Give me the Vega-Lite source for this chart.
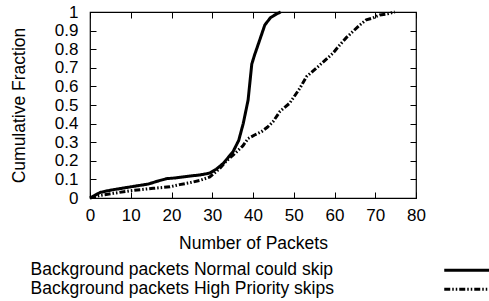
{
  "$schema": "https://vega.github.io/schema/vega-lite/v6.json",
  "width": 326,
  "height": 186,
  "autosize": {"type": "none"},
  "padding": {"left": 90, "top": 12, "right": 73, "bottom": 103},
  "background": "white",
  "config": {
    "font": "Liberation Sans",
    "view": {"stroke": "black", "strokeWidth": 1.2},
    "axis": {
      "domain": false, "grid": false, "tickColor": "black", "tickSize": -6, "tickWidth": 1,
      "labelFontSize": 17, "labelColor": "black", "titleFontSize": 17.5, "titleColor": "black",
      "titleFontWeight": "normal", "labelFont": "Liberation Sans", "titleFont": "Liberation Sans",
      "labelOverlap": false, "labelFlush": false, "labelBound": false
    },
    "legend": {
      "padding": 0, "labelFontSize": 17.5, "labelColor": "black", "labelFont": "Liberation Sans", "labelLimit": 0,
      "symbolStrokeColor": "black", "symbolStrokeWidth": 3, "symbolFillColor": "transparent"
    }
  },
  "data": {
    "values": [
      {"series": "Background packets Normal could skip", "packets": 0, "fraction": 0},
      {"series": "Background packets Normal could skip", "packets": 1, "fraction": 0.012},
      {"series": "Background packets Normal could skip", "packets": 2.5, "fraction": 0.03},
      {"series": "Background packets Normal could skip", "packets": 5, "fraction": 0.042},
      {"series": "Background packets Normal could skip", "packets": 10, "fraction": 0.06},
      {"series": "Background packets Normal could skip", "packets": 14.3, "fraction": 0.075},
      {"series": "Background packets Normal could skip", "packets": 16.5, "fraction": 0.09},
      {"series": "Background packets Normal could skip", "packets": 18.8, "fraction": 0.104},
      {"series": "Background packets Normal could skip", "packets": 21, "fraction": 0.108},
      {"series": "Background packets Normal could skip", "packets": 24.5, "fraction": 0.118},
      {"series": "Background packets Normal could skip", "packets": 27, "fraction": 0.124},
      {"series": "Background packets Normal could skip", "packets": 29.4, "fraction": 0.134},
      {"series": "Background packets Normal could skip", "packets": 31, "fraction": 0.155},
      {"series": "Background packets Normal could skip", "packets": 32.7, "fraction": 0.186},
      {"series": "Background packets Normal could skip", "packets": 35.1, "fraction": 0.249},
      {"series": "Background packets Normal could skip", "packets": 36.5, "fraction": 0.31},
      {"series": "Background packets Normal could skip", "packets": 37.6, "fraction": 0.4},
      {"series": "Background packets Normal could skip", "packets": 38.8, "fraction": 0.527},
      {"series": "Background packets Normal could skip", "packets": 39.7, "fraction": 0.72},
      {"series": "Background packets Normal could skip", "packets": 40.4, "fraction": 0.77},
      {"series": "Background packets Normal could skip", "packets": 41.5, "fraction": 0.84},
      {"series": "Background packets Normal could skip", "packets": 42.9, "fraction": 0.93},
      {"series": "Background packets Normal could skip", "packets": 44.3, "fraction": 0.97},
      {"series": "Background packets Normal could skip", "packets": 45.8, "fraction": 0.99},
      {"series": "Background packets Normal could skip", "packets": 46.8, "fraction": 1.0},
      {"series": "Background packets High Priority skips", "packets": 0, "fraction": 0},
      {"series": "Background packets High Priority skips", "packets": 2.5, "fraction": 0.014},
      {"series": "Background packets High Priority skips", "packets": 5.7, "fraction": 0.025},
      {"series": "Background packets High Priority skips", "packets": 9.8, "fraction": 0.039},
      {"series": "Background packets High Priority skips", "packets": 15.5, "fraction": 0.052},
      {"series": "Background packets High Priority skips", "packets": 19.6, "fraction": 0.06},
      {"series": "Background packets High Priority skips", "packets": 22, "fraction": 0.072},
      {"series": "Background packets High Priority skips", "packets": 24.5, "fraction": 0.082},
      {"series": "Background packets High Priority skips", "packets": 27, "fraction": 0.095},
      {"series": "Background packets High Priority skips", "packets": 29.4, "fraction": 0.113},
      {"series": "Background packets High Priority skips", "packets": 31.9, "fraction": 0.16},
      {"series": "Background packets High Priority skips", "packets": 33.5, "fraction": 0.2},
      {"series": "Background packets High Priority skips", "packets": 35.1, "fraction": 0.23},
      {"series": "Background packets High Priority skips", "packets": 37.5, "fraction": 0.28},
      {"series": "Background packets High Priority skips", "packets": 38.8, "fraction": 0.32},
      {"series": "Background packets High Priority skips", "packets": 40.5, "fraction": 0.34},
      {"series": "Background packets High Priority skips", "packets": 42.1, "fraction": 0.357},
      {"series": "Background packets High Priority skips", "packets": 43.5, "fraction": 0.38},
      {"series": "Background packets High Priority skips", "packets": 44.9, "fraction": 0.41},
      {"series": "Background packets High Priority skips", "packets": 46.6, "fraction": 0.465},
      {"series": "Background packets High Priority skips", "packets": 49, "fraction": 0.51},
      {"series": "Background packets High Priority skips", "packets": 51.5, "fraction": 0.59},
      {"series": "Background packets High Priority skips", "packets": 53.1, "fraction": 0.652},
      {"series": "Background packets High Priority skips", "packets": 56.4, "fraction": 0.715},
      {"series": "Background packets High Priority skips", "packets": 59.6, "fraction": 0.778},
      {"series": "Background packets High Priority skips", "packets": 61.3, "fraction": 0.823},
      {"series": "Background packets High Priority skips", "packets": 62.9, "fraction": 0.862},
      {"series": "Background packets High Priority skips", "packets": 66.2, "fraction": 0.93},
      {"series": "Background packets High Priority skips", "packets": 67.8, "fraction": 0.958},
      {"series": "Background packets High Priority skips", "packets": 69.4, "fraction": 0.968},
      {"series": "Background packets High Priority skips", "packets": 71.1, "fraction": 0.984},
      {"series": "Background packets High Priority skips", "packets": 73, "fraction": 0.99},
      {"series": "Background packets High Priority skips", "packets": 74.8, "fraction": 1.0}
    ]
  },
  "layer": [
    {
      "mark": {"type": "line", "color": "black", "strokeWidth": 3},
      "encoding": {
        "x": {
          "field": "packets", "type": "quantitative",
          "scale": {"domain": [0, 80], "nice": false},
          "axis": {"values": [0, 10, 20, 30, 40, 50, 60, 70, 80], "title": "Number of Packets",
                   "labelPadding": 15, "titleBaseline": "alphabetic", "titleY": 50}
        },
        "y": {
          "field": "fraction", "type": "quantitative",
          "scale": {"domain": [0, 1], "nice": false},
          "axis": {"values": [0, 0.1, 0.2, 0.3, 0.4, 0.5, 0.6, 0.7, 0.8, 0.9, 1], "format": ".1~f",
                   "title": "Cumulative Fraction", "labelPadding": 18, "titleX": -66, "titleBaseline": "alphabetic"}
        },
        "strokeDash": {
          "field": "series", "type": "nominal",
          "scale": {"domain": ["Background packets Normal could skip", "Background packets High Priority skips"],
                    "range": [[1, 0], [6, 2, 1.5, 2, 1.5, 2]]},
          "legend": {"title": null, "orient": "none", "legendX": 369.5, "legendY": 249.5,
                     "symbolType": "M-8,0H8", "symbolSize": 36, "labelOffset": -446.5, "rowPadding": 0}
        }
      }
    },
    {
      "mark": {"type": "line", "opacity": 0},
      "encoding": {
        "x": {"field": "packets", "type": "quantitative",
              "axis": {"orient": "top", "labels": false, "title": null, "values": [0, 10, 20, 30, 40, 50, 60, 70, 80]}},
        "y": {"field": "fraction", "type": "quantitative",
              "axis": {"orient": "right", "labels": false, "title": null, "values": [0, 0.1, 0.2, 0.3, 0.4, 0.5, 0.6, 0.7, 0.8, 0.9, 1]}},
        "detail": {"field": "series"}
      }
    }
  ],
  "resolve": {"axis": {"x": "independent", "y": "independent"}}
}
